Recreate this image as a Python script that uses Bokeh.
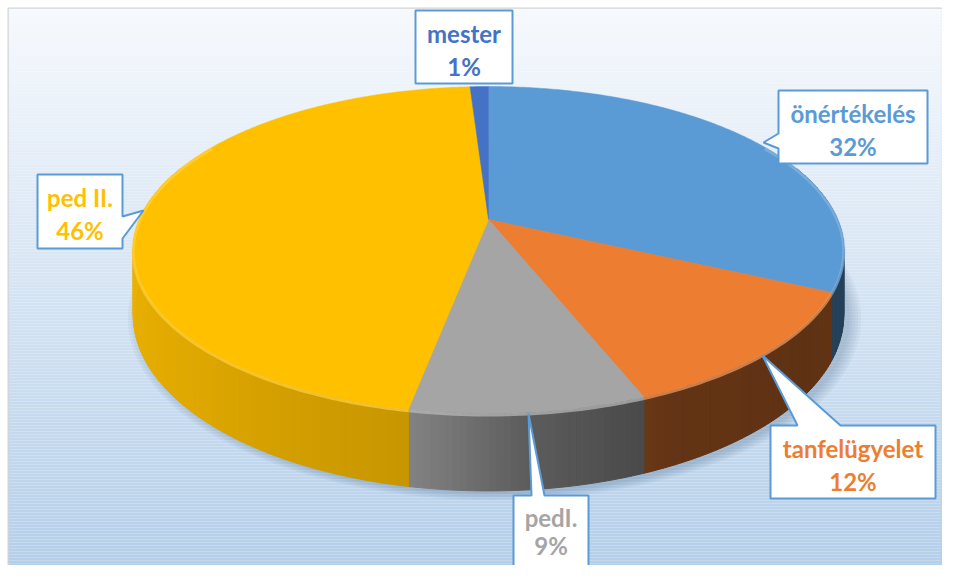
import numpy as np
from bokeh.plotting import figure
from bokeh.models import Range1d, ColumnDataSource
from bokeh.embed import file_html
from bokeh.resources import INLINE
from bokeh.core.properties import value

# ---------------- data ----------------
categories = ["önértékelés", "tanfelügyelet", "pedI.", "ped II.", "mester"]
shares = [32, 12, 9, 46, 1]
percent_labels = ["32%", "12%", "9%", "46%", "1%"]
slice_colors = ["#5B9BD5", "#ED7D31", "#A5A5A5", "#FFC000", "#4472C4"]

# ---------------- layout (page pixel coords) ----------------
X0, Y0 = 488.0, 219.0       # projected centre of the pie top
A, B = 349.0, 157.8         # half axes before perspective
C = 0.1866                  # perspective strength
DEPTH = 63.0                # thickness of the pie

callouts = [
    dict(box=(778, 90, 927, 163), side="left", base=(133, 148), tip=(763, 142), dy=(23, 56)),
    dict(box=(770, 425, 935, 498), side="top", base=(797, 840), tip=(762, 355), dy=(23, 56)),
    dict(box=(513, 495, 588, 580), side="top", base=(531, 544), tip=(528, 413), dy=(22, 50)),
    dict(box=(37, 174, 122, 248), side="right", base=(216, 238), tip=(143, 210), dy=(23, 56)),
    dict(box=(415, 10, 512, 83), side=None, base=None, tip=None, dy=(23, 56)),
]


def proj(theta_deg, depth=0.0):
    t = np.radians(theta_deg)
    u = np.sin(t)
    v = -np.cos(t)
    w = 1 - C * v
    return X0 + A * u / w, Y0 + (B * v + depth) / w


def hex_to_rgb(h):
    h = h.lstrip("#")
    return np.array([int(h[i:i + 2], 16) for i in (0, 2, 4)], dtype=float)


def rgb_to_hex(c):
    c = np.clip(np.round(c), 0, 255).astype(int)
    return "#%02x%02x%02x" % tuple(c)


def shade(theta):
    return np.interp(theta, [75, 100, 125, 155, 175, 190, 230, 285],
                     [0.46, 0.43, 0.40, 0.42, 0.56, 0.78, 0.88, 0.95])


p = figure(width=942, height=565, x_range=Range1d(8, 942), y_range=Range1d(565, 8),
           output_backend="svg", toolbar_location=None, min_border=0,
           min_border_left=8, min_border_top=8,
           x_axis_location=None, y_axis_location=None)
p.grid.visible = False
p.outline_line_color = "#d4d4d4"
p.outline_line_width = 2
p.background_fill_color = "#f6f9fd"
p.border_fill_color = "white"

# ---------------- background gradient ----------------
top_c, bot_c = hex_to_rgb("#f6f9fd"), hex_to_rgb("#b3cee9")
ys = np.arange(8, 575, 3)
bg_cols = [rgb_to_hex(top_c + (bot_c - top_c) * (y - 8) / 565) for y in ys]
p.quad(left=8, right=950, top=ys, bottom=ys + 3, fill_color=bg_cols, line_color=None)

# ---------------- angles from data ----------------
total = float(sum(shares))
ends = np.cumsum(shares) / total * 360.0
starts = np.concatenate([[0.0], ends[:-1]])

# ---------------- soft shadow ----------------
full = np.linspace(0, 360, 181)
sx, sy = proj(full, DEPTH)
cxs, cys = np.mean(sx), np.mean(sy)
for k in range(5):
    s = 1.0 + 0.008 * k
    p.patch(cxs + (sx - cxs) * s + 6, cys + (sy - cys) * s + 3,
            fill_color="#274a6e", fill_alpha=0.05, line_color=None)

# ---------------- sides ----------------
side_xs, side_ys, side_cols = [], [], []
for a0, a1, col in zip(starts, ends, slice_colors):
    lo, hi = max(a0, 70.0), min(a1, 290.0)
    if hi <= lo:
        continue
    n = max(2, int(np.ceil((hi - lo) / 1.0)) + 1)
    ts = np.linspace(lo, hi, n)
    base = hex_to_rgb(col)
    for t0, t1 in zip(ts[:-1], ts[1:]):
        x0, y0 = proj(t0)
        x1, y1 = proj(t1)
        x2, y2 = proj(t1, DEPTH)
        x3, y3 = proj(t0, DEPTH)
        side_xs.append([x0, x1, x2, x3])
        side_ys.append([y0, y1, y2, y3])
        side_cols.append(rgb_to_hex(base * shade((t0 + t1) / 2)))
p.patches(side_xs, side_ys, fill_color=side_cols, line_color=side_cols, line_width=1)

# ---------------- top faces ----------------
top_xs, top_ys = [], []
for a0, a1 in zip(starts, ends):
    n = max(3, int(np.ceil((a1 - a0) / 0.5)) + 1)
    ts = np.linspace(a0, a1, n)
    x, y = proj(ts)
    top_xs.append(np.concatenate([[X0], x]).tolist())
    top_ys.append(np.concatenate([[Y0], y]).tolist())
p.patches(top_xs, top_ys, fill_color=slice_colors, line_color=slice_colors, line_width=0.5)

# ---------------- rim highlight ----------------
for a0, a1, col in zip(starts, ends, slice_colors):
    lo, hi = max(a0, 60.0), min(a1, 300.0)
    if hi <= lo:
        continue
    ts = np.linspace(lo, hi, max(3, int(hi - lo) + 1))
    x, y = proj(ts)
    light = rgb_to_hex(hex_to_rgb(col) * 0.75 + 255 * 0.25)
    p.line(x, y + 1.5, line_color=light, line_width=3, line_alpha=0.7)

# ---------------- callouts ----------------
cx_list, cy_list = [], []
for c in callouts:
    l, t, r, b = c["box"]
    pts = [(l, t)]
    if c["side"] == "top":
        pts += [(c["base"][0], t), c["tip"], (c["base"][1], t)]
    pts.append((r, t))
    if c["side"] == "right":
        pts += [(r, c["base"][0]), c["tip"], (r, c["base"][1])]
    pts += [(r, b), (l, b)]
    if c["side"] == "left":
        pts += [(l, c["base"][1]), c["tip"], (l, c["base"][0])]
    cx_list.append([q[0] for q in pts])
    cy_list.append([q[1] for q in pts])
p.patches(cx_list, cy_list, fill_color="white", line_color="#5b9bd5", line_width=2)

text_colors = ["#5B9BD5", "#ED7D31", "#A5A5A5", "#FFC000", "#4472C4"]
lab_x = [(c["box"][0] + c["box"][2]) / 2 for c in callouts]
name_y = [c["box"][1] + c["dy"][0] for c in callouts]
pct_y = [c["box"][1] + c["dy"][1] for c in callouts]
src = ColumnDataSource(dict(x=lab_x, ny=name_y, py=pct_y, name=categories,
                            pct=percent_labels, col=text_colors))
for ycol, tcol in (("ny", "name"), ("py", "pct")):
    p.text(x="x", y=ycol, text=tcol, source=src, text_color="col",
           text_font=value("Lato"), text_font_style="bold", text_font_size="24px",
           text_align="center", text_baseline="middle")

open("out.html", "w").write(file_html(p, INLINE))
